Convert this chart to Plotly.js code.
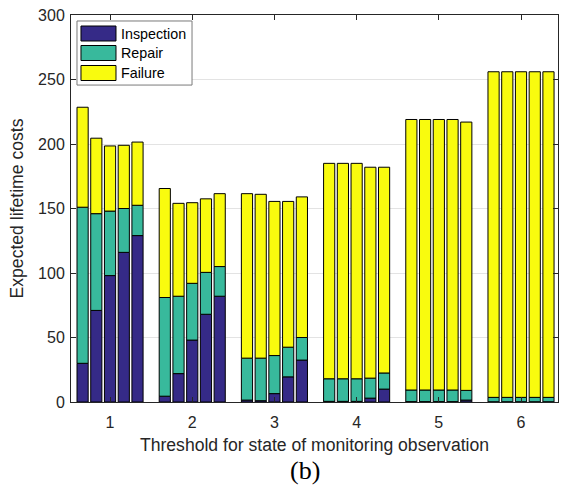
<!DOCTYPE html>
<html>
<head>
<meta charset="utf-8">
<script src="https://cdn.plot.ly/plotly-3.0.1.min.js"></script>
<style>html,body{margin:0;padding:0;background:#fff;}#chart{width:562px;height:490px;}</style>
</head>
<body>
<div id="chart"></div>
<script>
// Thresholds (groups) and bars per group
var groups = [1, 2, 3, 4, 5, 6];
var barsPerGroup = 5;
var seriesNames = ["Inspection", "Repair", "Failure"];
var seriesColors = ["#352a87", "#38b99c", "#f9fb0e"];

// Component values, 5 bars per group, groups 1..6 in order
var inspection = [
  30, 71, 98, 116, 129,
  4.5, 22, 48, 68, 82,
  1.5, 1, 6.5, 19.5, 32.5,
  0.5, 0.5, 0.5, 3, 10,
  0.3, 0.3, 0.3, 0.3, 1.5,
  0.2, 0.2, 0.2, 0.2, 0.2
];
var repair = [
  121, 75, 50, 34, 23.5,
  76.5, 60, 44, 32.5, 23,
  32.5, 33, 29.5, 23, 17.5,
  17.5, 17.5, 17.5, 15.5, 12.5,
  9, 9, 9, 9, 7.5,
  3.4, 3.4, 3.4, 3.4, 3.4
];
var failure = [
  77.5, 58.5, 50.5, 49, 49,
  84.5, 72, 62.5, 57, 56.5,
  127.5, 127, 119.5, 113, 109,
  167, 167, 167, 163.5, 159.5,
  209.7, 209.7, 209.7, 209.7, 208,
  252.4, 252.4, 252.4, 252.4, 252.4
];
var yTicks = [0, 50, 100, 150, 200, 250, 300];

var barStep = 0.167;
var xs = [];
groups.forEach(function (g) {
  for (var k = 0; k < barsPerGroup; k++) xs.push(g + (k - (barsPerGroup - 1) / 2) * barStep);
});

var seriesValues = [inspection, repair, failure];
var traces = seriesValues.map(function (vals, i) {
  return {
    type: "bar",
    x: xs,
    y: vals,
    name: seriesNames[i],
    width: 0.136,
    marker: { color: seriesColors[i], line: { color: "#000", width: 1 } },
    showlegend: false,
    hoverinfo: "y+name"
  };
});

var txtColor = "#262626";
var fam = "Liberation Sans, Arial, sans-serif";
var tickFont = { family: fam, size: 16, color: txtColor };
var titleFont = { family: fam, size: 17.6, color: txtColor };

// manual legend (MATLAB style)
var shapes = [{
  type: "rect", xref: "paper", yref: "paper",
  x0: 0.0123, x1: 0.2485, y0: 0.819, y1: 0.9845,
  fillcolor: "#fff", line: { color: "#7a7a7a", width: 1 }, layer: "above"
}];
var annotations = [];
var rowTop = [26, 45.5, 65.5];
seriesNames.forEach(function (n, i) {
  var yt = (402 - rowTop[i]) / 387, yb = (402 - rowTop[i] - 15) / 387;
  shapes.push({
    type: "rect", xref: "paper", yref: "paper",
    x0: 0.0205, x1: 0.0924, y0: yb, y1: yt,
    fillcolor: seriesColors[i], line: { color: "#000", width: 1 }, layer: "above"
  });
  annotations.push({
    xref: "paper", yref: "paper", x: 0.098, y: (yt + yb) / 2,
    xanchor: "left", yanchor: "middle", showarrow: false,
    text: n, font: { family: fam, size: 14.3, color: "#000" }
  });
});
annotations.push({
  xref: "paper", yref: "paper", x: (305 - 71) / 487, y: (402 - 470) / 387,
  xanchor: "center", yanchor: "middle", showarrow: false,
  text: "(b)", font: { family: "Liberation Serif, Times New Roman, serif", size: 26, color: "#000" }
});

var layout = {
  width: 562, height: 490,
  margin: { l: 71, r: 4, t: 15, b: 88, pad: 0 },
  paper_bgcolor: "#fff", plot_bgcolor: "#fff",
  barmode: "relative",
  bargap: 0,
  font: tickFont,
  showlegend: false,
  xaxis: {
    range: [0.525, 6.45],
    tickmode: "array", tickvals: groups, ticktext: groups.map(String),
    ticks: "inside", ticklen: 5, tickcolor: txtColor,
    showline: true, linecolor: txtColor, linewidth: 1, mirror: "ticks",
    showgrid: false, zeroline: false,
    tickfont: tickFont, ticklabelstandoff: 6,
    title: { text: "Threshold for state of monitoring observation", font: titleFont, standoff: 8 },
    automargin: false
  },
  yaxis: {
    range: [0, 300],
    tickmode: "array", tickvals: yTicks,
    ticks: "inside", ticklen: 5, tickcolor: txtColor,
    showline: true, linecolor: txtColor, linewidth: 1, mirror: "ticks",
    showgrid: true, gridcolor: "#e3e3e3", gridwidth: 1, zeroline: false,
    tickfont: tickFont, ticklabelstandoff: 2,
    title: { text: "Expected lifetime costs", font: titleFont, standoff: 9 },
    automargin: false
  },
  shapes: shapes,
  annotations: annotations
};

Plotly.newPlot("chart", traces, layout, { staticPlot: true, displayModeBar: false });
</script>
</body>
</html>
